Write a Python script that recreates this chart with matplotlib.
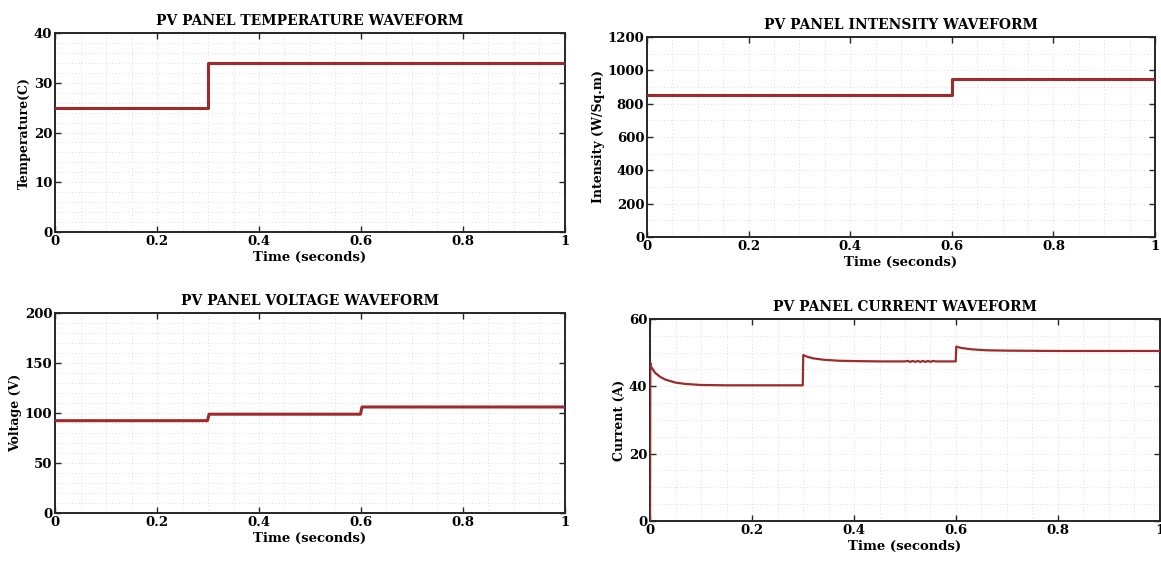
import numpy as np
import matplotlib.pyplot as plt
from matplotlib.ticker import MultipleLocator

# -------- DATA --------
t_temp = [0, 0.3, 0.3, 1.0]
temp = [25, 25, 34, 34]

t_int = [0, 0.6, 0.6, 1.0]
intensity = [850, 850, 950, 950]

t_volt = [0, 0.299, 0.302, 0.599, 0.602, 1.0]
volt = [92.3, 92.3, 98.8, 98.8, 106.0, 106.0]

t_curr = [0, 0.0005, 0.002, 0.01, 0.02, 0.03, 0.05, 0.07, 0.1, 0.15, 0.2, 0.2995,
          0.3005, 0.303, 0.31, 0.32, 0.34, 0.37, 0.4, 0.45, 0.5,
          0.505, 0.51, 0.515, 0.52, 0.525, 0.53, 0.535, 0.54, 0.545, 0.55, 0.555, 0.56, 0.5995,
          0.6005, 0.603, 0.61, 0.63, 0.66, 0.7, 0.8, 1.0]
curr = [0, 47.0, 45.8, 44.0, 42.8, 42.0, 41.1, 40.7, 40.4, 40.3, 40.3, 40.3,
        49.3, 49.1, 48.7, 48.3, 47.9, 47.6, 47.5, 47.4, 47.4,
        47.55, 47.25, 47.55, 47.25, 47.55, 47.25, 47.55, 47.25, 47.55, 47.25, 47.55, 47.4, 47.4,
        51.8, 51.7, 51.4, 51.0, 50.7, 50.6, 50.5, 50.5]

titles = ["PV PANEL TEMPERATURE WAVEFORM", "PV PANEL INTENSITY WAVEFORM",
          "PV PANEL VOLTAGE WAVEFORM", "PV PANEL CURRENT WAVEFORM"]
ylabels = ["Temperature(C)", "Intensity (W/Sq.m)", "Voltage (V)", "Current (A)"]

# -------- STYLE --------
plt.rcParams["font.family"] = "DejaVu Serif"
plt.rcParams["font.weight"] = "bold"
line_color = "#9e2a2b"

fig = plt.figure(figsize=(11.61, 5.62), dpi=100)

boxes = [
    [0.0474, 0.5872, 0.4392, 0.3540],
    [0.5573, 0.5783, 0.4375, 0.3559],
    [0.0474, 0.0872, 0.4392, 0.3559],
    [0.5599, 0.0730, 0.4392, 0.3594],
]
series = [(t_temp, temp, 2.2), (t_int, intensity, 2.2), (t_volt, volt, 2.2), (t_curr, curr, 1.6)]
ylims = [(0, 40), (0, 1200), (0, 200), (0, 60)]
ymajor = [10, 200, 50, 20]
yminor = [2, 100, 10, 5]

for i in range(4):
    ax = fig.add_axes(boxes[i])
    x, y, lw = series[i]
    ax.plot(x, y, color=line_color, linewidth=lw, zorder=3)
    ax.set_xlim(0, 1)
    ax.set_ylim(*ylims[i])
    ax.xaxis.set_major_locator(MultipleLocator(0.2))
    ax.xaxis.set_minor_locator(MultipleLocator(0.05))
    ax.yaxis.set_major_locator(MultipleLocator(ymajor[i]))
    ax.yaxis.set_minor_locator(MultipleLocator(yminor[i]))
    ax.set_xticks([0, 0.2, 0.4, 0.6, 0.8, 1.0])
    ax.set_xticklabels(["0", "0.2", "0.4", "0.6", "0.8", "1"])
    ax.grid(which="both", linestyle=(0, (1, 3)), color="#d4d4d4", linewidth=0.6)
    ax.tick_params(which="major", direction="in", length=4, width=1,
                   top=True, right=True, labelsize=9.5, pad=2, color="#262626")
    ax.tick_params(which="minor", length=0)
    for s in ax.spines.values():
        s.set_linewidth(1.4)
        s.set_color("#262626")
    for lab in ax.get_xticklabels() + ax.get_yticklabels():
        lab.set_fontweight("bold")
    ax.set_title(titles[i], fontsize=10, fontweight="bold", pad=6)
    ax.set_ylabel(ylabels[i], fontsize=9, fontweight="bold", labelpad=2)
    ax.set_xlabel("Time (seconds)", fontsize=9.5, fontweight="bold", labelpad=2)

fig.savefig("out.png", dpi=100)
